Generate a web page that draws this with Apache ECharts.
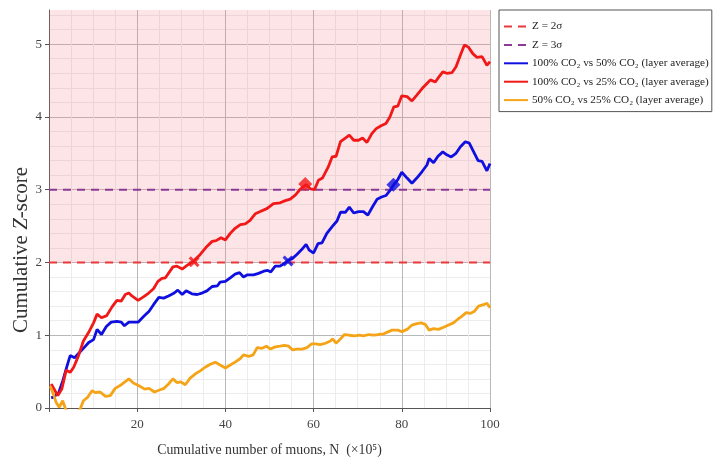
<!DOCTYPE html>
<html><head><meta charset="utf-8">
<script src="https://cdn.jsdelivr.net/npm/echarts@6/dist/echarts.min.js"></script>
<style>html,body{margin:0;padding:0;background:#fff}#c{width:721px;height:462px}</style>
</head><body><div id="c"></div>
<script>
const xTicks = [0, 20, 40, 60, 80, 100];
const yTicks = [0, 1, 2, 3, 4, 5];
const seriesNames = ['Z = 2σ', 'Z = 3σ', '100% CO₂ vs 50% CO₂ (layer average)', '100% CO₂ vs 25% CO₂ (layer average)', '50% CO₂ vs 25% CO₂ (layer average)'];
const xTitle = 'Cumulative number of muons, N  (×10⁵)';
const yTitle = 'Cumulative {i|Z}-score';
const sigmaLevels = [2, 3];
const blueData = [[0.5,0.14],[1.0,0.15],[2.2,0.21],[3.1,0.37],[4.1,0.58],[4.8,0.72],[5.8,0.69],[6.7,0.75],[7.8,0.82],[9.0,0.90],[10.1,0.94],[10.9,1.08],[11.9,1.01],[13.0,1.12],[14.1,1.18],[15.4,1.19],[16.4,1.18],[17.1,1.13],[18.1,1.18],[19.2,1.18],[20.2,1.18],[21.5,1.26],[22.7,1.33],[23.7,1.42],[24.9,1.52],[26.0,1.51],[27.1,1.54],[28.4,1.58],[29.2,1.62],[30.2,1.56],[31.1,1.61],[32.4,1.57],[33.6,1.56],[34.7,1.58],[35.8,1.61],[37.0,1.67],[38.2,1.68],[38.8,1.73],[40.0,1.74],[41.1,1.79],[42.2,1.84],[43.2,1.86],[44.1,1.80],[45.0,1.83],[46.4,1.83],[47.5,1.85],[48.7,1.88],[49.6,1.89],[50.3,1.87],[51.3,1.95],[52.4,1.95],[53.4,1.99],[54.2,2.03],[55.1,2.05],[56.2,2.11],[57.2,2.17],[58.3,2.25],[59.0,2.17],[60.0,2.13],[61.0,2.26],[61.9,2.27],[63.0,2.40],[64.3,2.50],[65.3,2.57],[66.1,2.69],[67.2,2.69],[68.1,2.76],[69.1,2.68],[70.2,2.70],[71.3,2.70],[72.3,2.65],[73.4,2.77],[74.4,2.87],[75.4,2.90],[76.4,2.92],[77.2,2.98],[78.2,3.07],[79.1,3.14],[80.0,3.24],[81.2,3.16],[82.3,3.09],[83.4,3.16],[84.6,3.25],[85.7,3.34],[86.2,3.43],[87.2,3.37],[88.2,3.46],[89.3,3.52],[90.2,3.48],[91.2,3.45],[92.3,3.50],[93.3,3.59],[94.4,3.66],[95.3,3.64],[96.3,3.52],[97.3,3.40],[98.2,3.39],[99.3,3.26],[100,3.36]];
const redData = [[0.5,0.33],[2.0,0.17],[2.9,0.26],[3.9,0.52],[4.8,0.49],[5.6,0.56],[6.7,0.72],[7.8,0.92],[9.0,1.04],[10.1,1.17],[10.9,1.29],[11.9,1.24],[13.1,1.27],[14.3,1.39],[15.4,1.48],[16.4,1.47],[17.3,1.56],[18.1,1.58],[18.8,1.54],[20.2,1.48],[21.5,1.53],[22.6,1.58],[23.7,1.64],[24.7,1.74],[25.6,1.78],[26.4,1.79],[28.1,1.94],[29.0,1.95],[30.2,1.91],[31.3,1.96],[32.8,2.02],[34.3,2.11],[35.8,2.22],[37.0,2.29],[37.9,2.30],[39.0,2.34],[40.0,2.31],[41.1,2.40],[42.2,2.47],[43.4,2.52],[44.5,2.53],[45.6,2.58],[46.8,2.67],[47.9,2.70],[49.4,2.74],[50.9,2.81],[52.4,2.82],[53.6,2.85],[54.7,2.87],[55.9,2.93],[57.0,3.01],[58.3,3.07],[59.3,3.01],[60.2,3.00],[61.1,3.13],[62.0,3.16],[63.3,3.31],[64.2,3.45],[65.1,3.46],[66.1,3.66],[67.2,3.71],[68.1,3.75],[69.1,3.68],[70.2,3.68],[71.1,3.71],[72.1,3.65],[73.2,3.77],[74.2,3.84],[75.3,3.88],[76.4,3.91],[77.3,4.00],[78.2,4.14],[79.1,4.15],[80.0,4.29],[81.2,4.28],[82.3,4.22],[83.4,4.30],[84.6,4.39],[85.7,4.46],[86.5,4.51],[87.6,4.48],[88.3,4.54],[89.3,4.62],[90.2,4.60],[91.4,4.61],[92.3,4.69],[93.3,4.85],[94.2,4.99],[95.1,4.96],[96.1,4.87],[97.0,4.82],[98.2,4.83],[99.3,4.71],[100,4.76]];
const orangeData = [[0.3,0.30],[1.0,0.19],[1.6,0.08],[2.3,0.01],[3.1,0.10],[3.8,-0.02],[5.0,-0.10],[6.5,-0.05],[7.1,-0.01],[7.8,0.10],[8.8,0.15],[9.8,0.24],[10.5,0.21],[11.6,0.22],[12.8,0.16],[13.9,0.17],[15.0,0.27],[16.4,0.32],[18.1,0.40],[19.2,0.34],[20.3,0.31],[21.7,0.26],[22.7,0.27],[23.9,0.22],[25.2,0.25],[26.1,0.27],[27.1,0.33],[28.1,0.40],[29.0,0.35],[29.9,0.36],[30.9,0.32],[32.0,0.41],[33.2,0.47],[34.3,0.51],[35.4,0.56],[36.6,0.60],[37.7,0.63],[38.8,0.59],[40.0,0.55],[41.1,0.59],[42.2,0.63],[43.4,0.68],[44.1,0.73],[45.3,0.71],[46.3,0.73],[47.2,0.83],[48.3,0.82],[49.3,0.85],[50.2,0.81],[51.3,0.84],[52.4,0.85],[53.4,0.86],[54.3,0.85],[55.2,0.80],[56.2,0.81],[57.4,0.81],[58.5,0.83],[59.5,0.88],[60.4,0.88],[61.5,0.87],[62.7,0.89],[63.8,0.92],[64.3,0.95],[65.1,0.89],[66.1,0.95],[67.0,1.01],[68.1,1.00],[69.3,0.99],[70.4,1.00],[71.3,0.99],[72.5,1.01],[73.6,1.00],[74.7,1.01],[75.9,1.02],[77.0,1.05],[77.8,1.07],[79.1,1.07],[80.0,1.05],[81.2,1.08],[82.3,1.14],[83.4,1.16],[84.4,1.17],[85.3,1.15],[86.2,1.07],[87.2,1.09],[88.3,1.08],[89.5,1.11],[90.6,1.14],[91.7,1.17],[92.7,1.22],[93.6,1.26],[94.6,1.31],[95.5,1.30],[96.5,1.33],[97.4,1.40],[98.5,1.42],[99.3,1.44],[100,1.38]];
const redCross2 = [[32.9, 2.01]];
const redCross3 = [[58.1, 3.08]];
const blueCross2 = [[54.2, 2.02]];
const blueCross3 = [[78.1, 3.07]];

const X_SYM = 'path://M0,2 L2,0 L5,3 L8,0 L10,2 L7,5 L10,8 L8,10 L5,7 L2,10 L0,8 L3,5 Z';
const FONT = '"Liberation Serif", "Times New Roman", serif';
const xMin = xTicks[0], xMax = xTicks[xTicks.length - 1];
const yMax = 5.47;

const chart = echarts.init(document.getElementById('c'));
chart.setOption({
  animation: false,
  backgroundColor: '#fff',
  textStyle: { fontFamily: FONT },
  grid: { left: 49, right: 231, top: 10, bottom: 53 },
  graphic: [{
    type: 'text', x: 21, y: 250, rotation: Math.PI / 2, silent: true,
    style: { text: yTitle, fontFamily: FONT, fontSize: 21, fill: '#333',
      align: 'center', verticalAlign: 'middle',
      rich: { i: { fontFamily: FONT, fontSize: 21, fontStyle: 'italic', fill: '#333' } } }
  }],
  legend: {
    data: seriesNames,
    orient: 'vertical',
    left: 499, top: 10,
    padding: [11, 3, 6, 4],
    borderColor: '#555', borderWidth: 1,
    itemWidth: 24, itemHeight: 10, itemGap: 7.4,
    itemStyle: { opacity: 0 },
    textStyle: { fontFamily: FONT, fontSize: 11.2, color: '#222', padding: [0, 0, 0, -1] }
  },
  xAxis: {
    type: 'value', min: xMin, max: xMax, interval: 20,
    name: xTitle,
    nameLocation: 'middle', nameGap: 35,
    nameTextStyle: { fontFamily: FONT, fontSize: 13.8, color: '#333' },
    axisLine: { show: true, lineStyle: { color: '#555', width: 1 } },
    axisTick: { show: true, length: 4, lineStyle: { color: '#555' } },
    axisLabel: { fontFamily: FONT, fontSize: 13, color: '#444', margin: 10,
      formatter: v => (v === 0 ? '' : String(v)) },
    splitLine: { show: true, lineStyle: { color: '#b8b8b8', width: 1 } },
    minorTick: { show: false, splitNumber: 4 },
    minorSplitLine: { show: true, lineStyle: { color: '#ececec', width: 1 } }
  },
  yAxis: {
    type: 'value', min: 0, max: yMax, interval: 1,
    axisLine: { show: true, lineStyle: { color: '#555', width: 1 } },
    axisTick: { show: true, length: 4, customValues: yTicks, lineStyle: { color: '#555' } },
    axisLabel: { fontFamily: FONT, fontSize: 13, color: '#444', margin: 7, customValues: yTicks,
      formatter: v => String(v) },
    splitLine: { show: true, lineStyle: { color: '#b8b8b8', width: 1 } },
    minorTick: { show: false, splitNumber: 5 },
    minorSplitLine: { show: true, lineStyle: { color: '#ececec', width: 1 } }
  },
  series: [
    { name: seriesNames[0], type: 'line', symbol: 'none', z: 3,
      data: [[xMin, sigmaLevels[0]], [xMax, sigmaLevels[0]]],
      lineStyle: { color: '#e8383d', width: 2, type: [8, 6] }, itemStyle: { color: '#e8383d' },
      markArea: { silent: true, itemStyle: { color: 'rgba(245,120,135,0.2)' },
        data: [[{ yAxis: sigmaLevels[0] }, { yAxis: yMax }]] } },
    { name: seriesNames[1], type: 'line', symbol: 'none', z: 3,
      data: [[xMin, sigmaLevels[1]], [xMax, sigmaLevels[1]]],
      lineStyle: { color: '#8c3a96', width: 2, type: [8, 6] }, itemStyle: { color: '#8c3a96' } },
    { name: seriesNames[2], type: 'line', symbol: 'none', z: 4, data: blueData,
      lineStyle: { color: '#0f0fe0', width: 2.8 }, itemStyle: { color: '#0f0fe0' } },
    { name: seriesNames[3], type: 'line', symbol: 'none', z: 4, data: redData,
      lineStyle: { color: '#f21818', width: 2.8 }, itemStyle: { color: '#f21818' } },
    { name: seriesNames[4], type: 'line', symbol: 'none', z: 4, data: orangeData,
      lineStyle: { color: '#f5a418', width: 2.8 }, itemStyle: { color: '#f5a418' } },
    { type: 'scatter', z: 5, data: redCross2, symbol: X_SYM, symbolSize: 11, itemStyle: { color: '#f21818' } },
    { type: 'scatter', z: 5, data: redCross3, symbol: 'diamond', symbolSize: 14, itemStyle: { color: '#f21818' } },
    { type: 'scatter', z: 5, data: blueCross2, symbol: X_SYM, symbolSize: 11, itemStyle: { color: '#0f0fe0' } },
    { type: 'scatter', z: 5, data: blueCross3, symbol: 'diamond', symbolSize: 14, itemStyle: { color: '#0f0fe0' } }
  ]
});
</script></body></html>
